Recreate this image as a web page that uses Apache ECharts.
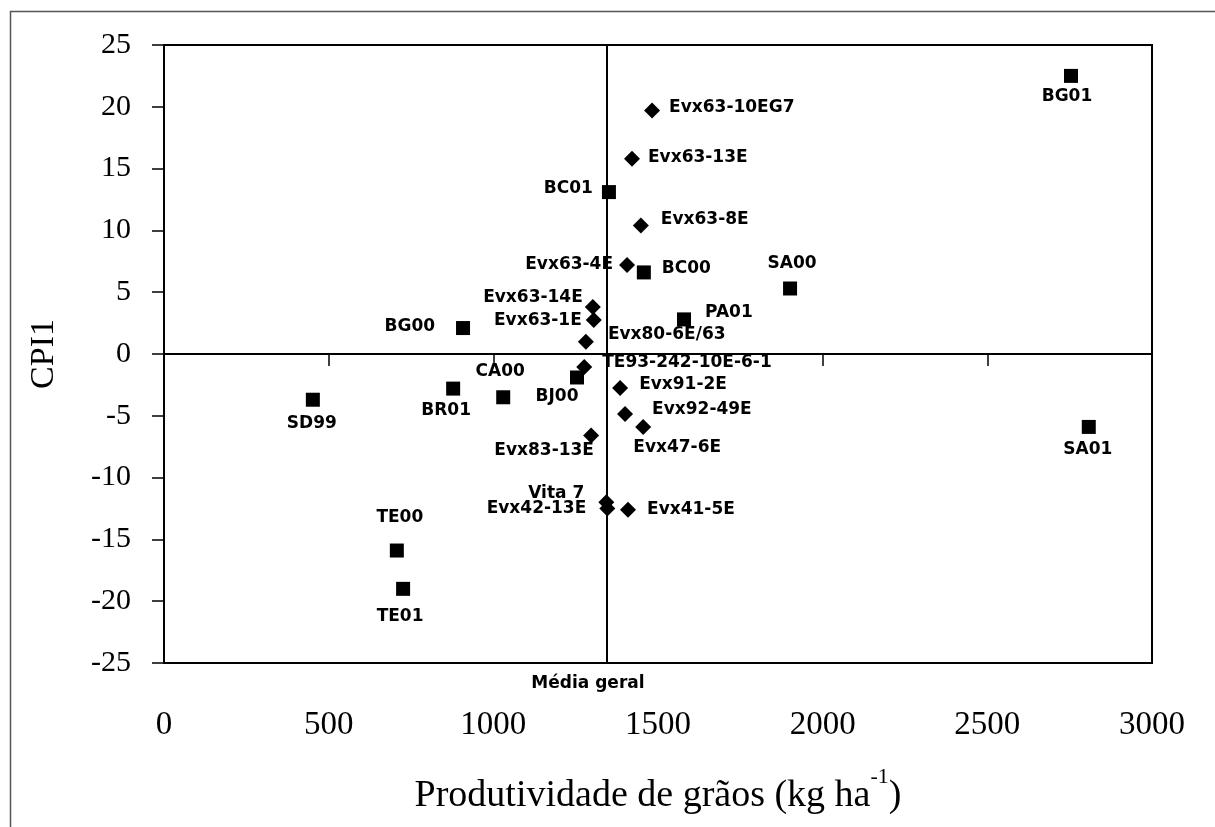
<!DOCTYPE html>
<html>
<head>
<meta charset="utf-8">
<script src="https://cdn.jsdelivr.net/npm/echarts@6/dist/echarts.min.js"></script>
<style>
  html, body { margin: 0; padding: 0; background: #fff; }
  #chart { width: 1215px; height: 827px; }
</style>
</head>
<body>
<div id="chart"></div>
<script>
// ambientes (quadrados)
const envNames = ['BG01', 'BC01', 'BC00', 'SA00', 'PA01', 'BG00', 'CA00', 'BJ00', 'BR01', 'SD99', 'SA01', 'TE00', 'TE01'];
const envX = [2754, 1351, 1457, 1901, 1579, 908, 1030, 1254, 878, 452, 2808, 707, 726];
const envY = [22.5, 13.1, 6.6, 5.3, 2.8, 2.1, -3.5, -1.9, -2.8, -3.7, -5.9, -15.9, -19.0];

// genotipos (losangos)
const genNames = ['Evx63-10EG7', 'Evx63-13E', 'Evx63-8E', 'Evx63-4E', 'Evx63-14E', 'Evx63-1E', 'Evx80-6E/63',
  'TE93-242-10E-6-1', 'Evx91-2E', 'Evx92-49E', 'Evx47-6E', 'Evx83-13E', 'Vita 7', 'Evx42-13E', 'Evx41-5E'];
const genX = [1482, 1421, 1448, 1406, 1302, 1305, 1281, 1276, 1385, 1400, 1455, 1297, 1343, 1346, 1409];
const genY = [19.7, 15.8, 10.4, 7.2, 3.8, 2.75, 1.0, -1.05, -2.75, -4.85, -5.9, -6.6, -12.0, -12.5, -12.6];

const mediaGeral = 1345;
const xTicks = { min: 0, max: 3000, interval: 500 };
const yTicks = { min: -25, max: 25, interval: 5 };

// label placement: [dx, dy, align]
const labelPlace = {
  'BG01': [-4, 21, 'center'], 'BC01': [-16, -4, 'right'], 'BC00': [18, -4, 'left'],
  'SA00': [2, -25, 'center'], 'PA01': [21, -7, 'left'], 'BG00': [-28, -1, 'right'],
  'CA00': [-3, -26, 'center'], 'BJ00': [-20, 19, 'center'], 'BR01': [-7, 22, 'center'],
  'SD99': [-1, 24, 'center'], 'SA01': [-1, 23, 'center'], 'TE00': [3, -33, 'center'],
  'TE01': [-3, 28, 'center'],
  'Evx63-10EG7': [17, -3, 'left'], 'Evx63-13E': [16, -1, 'left'], 'Evx63-8E': [20, -6, 'left'],
  'Evx63-4E': [-14, 0, 'right'], 'Evx63-14E': [-10, -9, 'right'], 'Evx63-1E': [-12, 1, 'right'],
  'Evx80-6E/63': [22, -7, 'left'], 'TE93-242-10E-6-1': [16, -4, 'left'], 'Evx91-2E': [19, -3, 'left'],
  'Evx92-49E': [27, -4, 'left'], 'Evx47-6E': [34, 21, 'center'], 'Evx83-13E': [-47, 15, 'center'],
  'Vita 7': [-22, -9, 'right'], 'Evx42-13E': [-21, 0, 'right'], 'Evx41-5E': [19, 0, 'left']
};

function buildData(names, xs, ys) {
  return names.map((n, i) => {
    const p = labelPlace[n];
    const label = { show: true, position: 'inside', offset: [p[0], p[1]], align: p[2], verticalAlign: 'middle' };
    if (n === 'TE93-242-10E-6-1') {
      label.backgroundColor = '#fff';
      label.padding = [8, 8, 8, 2];
    }
    return { name: n, value: [xs[i], ys[i]], label: label };
  });
}

const chart = echarts.init(document.getElementById('chart'));

const labelFont = {
  fontFamily: 'DejaVu Sans',
  fontWeight: 'bold',
  fontSize: 17,
  color: '#000',
  formatter: '{b}'
};

chart.setOption({
  animation: false,
  backgroundColor: '#fff',
  graphic: [{
    type: 'rect',
    left: 8, top: 9,
    shape: { width: 1220, height: 830 },
    style: { fill: 'none', stroke: '#555', lineWidth: 1.5 },
    silent: true
  }],
  grid: {
    left: 164, top: 45, right: 63, bottom: 164,
    outerBoundsMode: 'none',
    show: true, borderColor: '#000', borderWidth: 2, backgroundColor: 'transparent'
  },
  xAxis: {
    type: 'value',
    min: xTicks.min, max: xTicks.max, interval: xTicks.interval,
    name: '{a|Produtividade de grãos (kg ha}{b|-1}{a|)}',
    nameLocation: 'middle',
    nameGap: 103,
    nameMoveOverlap: false,
    nameTextStyle: {
      rich: {
        a: { fontFamily: 'Liberation Serif', fontSize: 38, lineHeight: 40, padding: [20, 0, 0, 0], color: '#000' },
        b: { fontFamily: 'Liberation Serif', fontSize: 22, lineHeight: 22, verticalAlign: 'top', color: '#000' }
      }
    },
    axisLine: { show: true, lineStyle: { color: '#000', width: 2 } },
    axisTick: { show: true, length: 12, lineStyle: { color: '#000', width: 1.5 } },
    axisLabel: {
      fontFamily: 'Liberation Serif', fontSize: 33, color: '#000', margin: 46,
      formatter: v => String(v)
    },
    splitLine: { show: false }
  },
  yAxis: {
    type: 'value',
    min: yTicks.min, max: yTicks.max, interval: yTicks.interval,
    name: 'CPI1',
    nameLocation: 'middle',
    nameGap: 103,
    nameMoveOverlap: false,
    nameTextStyle: { fontFamily: 'Liberation Serif', fontSize: 34, color: '#000' },
    axisLine: { show: true, lineStyle: { color: '#000', width: 2 } },
    axisTick: { show: true, length: 12, lineStyle: { color: '#000', width: 1.5 } },
    axisLabel: { fontFamily: 'Liberation Serif', fontSize: 30, color: '#000', margin: 33 },
    splitLine: { show: false }
  },
  series: [
    {
      type: 'line',
      data: [],
      z: 1,
      markLine: {
        silent: true,
        symbol: 'none',
        lineStyle: { color: '#000', width: 2, type: 'solid' },
        data: [
          {
            xAxis: mediaGeral,
            label: {
              show: true, position: 'start', formatter: 'Média geral', distance: 12,
              fontFamily: 'DejaVu Sans', fontWeight: 'bold', fontSize: 17, color: '#000',
              padding: [0, 38, 0, 0]
            }
          },
          { yAxis: 0, label: { show: false } }
        ]
      }
    },
    {
      name: 'Ambientes',
      type: 'scatter',
      symbol: 'rect',
      symbolSize: 14,
      z: 3,
      itemStyle: { color: '#000', opacity: 1 },
      label: labelFont,
      emphasis: { disabled: true },
      data: buildData(envNames, envX, envY)
    },
    {
      name: 'Genótipos',
      type: 'scatter',
      symbol: 'diamond',
      symbolSize: 16,
      z: 3,
      itemStyle: { color: '#000', opacity: 1 },
      label: labelFont,
      emphasis: { disabled: true },
      data: buildData(genNames, genX, genY)
    }
  ]
});
</script>
</body>
</html>
